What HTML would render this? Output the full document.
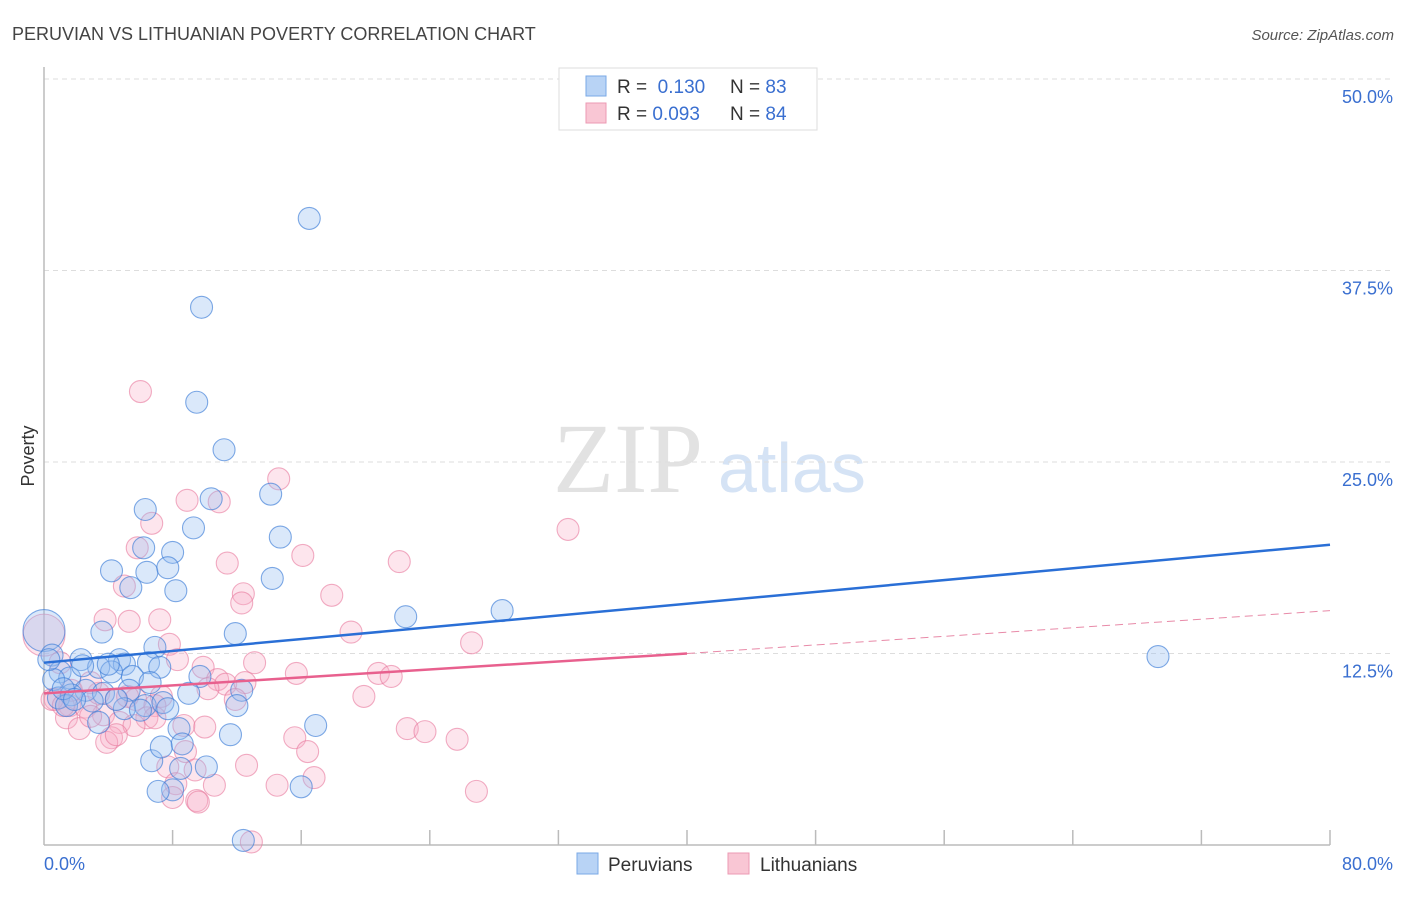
<!DOCTYPE html>
<html><head><meta charset="utf-8"><style>
body{margin:0;background:#fff;font-family:"Liberation Sans",sans-serif}
svg text{font-family:"Liberation Sans",sans-serif}
</style></head><body>
<svg id="c" width="1406" height="892">
<text x="12" y="40" font-size="18" fill="#444">PERUVIAN VS LITHUANIAN POVERTY CORRELATION CHART</text>
<text x="1394" y="40" font-size="15" fill="#555" text-anchor="end" font-style="italic">Source: ZipAtlas.com</text>
<text x="553" y="492" font-size="100" fill="#e2e2e2" style="font-family:'Liberation Serif',serif">ZIP</text>
<text x="718" y="492" font-size="70" fill="#d5e3f5">atlas</text>
<g id="grid"></g>
<g id="pts"></g>
<g id="trend"></g>
<text x="34" y="456" font-size="18" fill="#333" transform="rotate(-90 34 456)" text-anchor="middle">Poverty</text>
<text x="44" y="870" font-size="18" fill="#3a6fd0">0.0%</text>
<text x="1393" y="870" font-size="18" fill="#3a6fd0" text-anchor="end">80.0%</text>
<g>
<rect x="559" y="68" width="258" height="62" fill="#fff" stroke="#ddd"/>
<rect x="586" y="76" width="20" height="20" fill="#b8d3f5" stroke="#7aa8e6"/>
<rect x="586" y="103" width="20" height="20" fill="#f9c6d4" stroke="#ec9ab3"/>
<text x="617" y="93" font-size="19" fill="#333">R = <tspan fill="#3a6fd0">&#160;0.130</tspan></text>
<text x="730" y="93" font-size="19" fill="#333">N = <tspan fill="#3a6fd0">83</tspan></text>
<text x="617" y="120" font-size="19" fill="#333">R = <tspan fill="#3a6fd0">0.093</tspan></text>
<text x="730" y="120" font-size="19" fill="#333">N = <tspan fill="#3a6fd0">84</tspan></text>
</g>
<g>
<rect x="577" y="853" width="21" height="21" fill="#b8d3f5" stroke="#7aa8e6"/>
<text x="608" y="871" font-size="19" fill="#333">Peruvians</text>
<rect x="728" y="853" width="21" height="21" fill="#f9c6d4" stroke="#ec9ab3"/>
<text x="760" y="871" font-size="19" fill="#333">Lithuanians</text>
</g>
</svg>
<script>
const yTicks=[12.5,25,37.5,50];
const yTickLabels=["12.5%","25.0%","37.5%","50.0%"];
const xTicks=[8,16,24,32,40,48,56,64,72,80];
const blueX=[16.5,9.8,9.5,11.2,10.4,14.1,6.3,9.3,14.7,6.2,8.0,4.2,6.4,7.7,14.2,5.4,8.2,22.5,28.5,3.6,11.9,6.9,0,0.5,2.3,4.7,6.5,5.0,7.2,3.4,1.0,4.2,1.6,0.6,5.5,9.7,2.6,3.7,5.3,6.6,12.3,9.0,0.9,1.7,3.0,6.3,7.4,7.7,12.0,5.0,8.4,16.9,3.4,11.6,6.7,7.3,8.6,10.1,8.5,8.0,7.1,16.0,12.4,69.3,0.3,1.4,4.5,6.0,2.4,4.0,1.2,1.9];
const blueY=[40.9,35.1,28.9,25.8,22.6,22.9,21.9,20.7,20.1,19.4,19.1,17.9,17.8,18.1,17.4,16.8,16.6,14.9,15.3,13.9,13.8,12.9,14.0,12.4,12.1,12.1,11.9,11.8,11.6,11.6,11.3,11.3,10.9,10.8,11.0,11.0,10.1,9.9,10.1,10.6,10.1,9.9,9.6,9.8,9.4,9.1,9.3,8.9,9.1,8.9,7.6,7.8,8.0,7.2,5.5,6.4,6.6,5.1,5.0,3.6,3.5,3.8,0.3,12.3,12.1,9.1,9.5,8.8,11.7,11.8,10.2,9.5];
const pinkX=[6.0,14.6,8.9,10.9,6.7,32.6,5.8,16.1,11.4,22.1,5.0,12.4,17.9,12.3,3.8,5.3,7.2,19.1,26.6,0,7.8,8.3,13.1,9.9,15.7,20.8,21.6,10.8,11.3,10.2,7.3,19.9,12.5,0.7,1.6,2.6,3.4,4.5,5.7,6.9,0.5,1.4,2.2,3.7,4.7,6.4,5.6,4.2,3.9,4.5,8.7,10.0,22.6,23.7,25.7,15.6,16.4,8.8,12.6,7.7,9.4,8.2,16.8,14.5,10.6,8.0,9.5,9.6,26.9,12.9,1.0,2.9,1.7,5.2,11.9,6.9,2.9,1.2];
const pinkY=[29.6,23.9,22.5,22.4,21.0,20.6,19.4,18.9,18.4,18.5,16.9,16.4,16.3,15.8,14.7,14.6,14.7,13.9,13.2,13.7,13.1,12.1,11.9,11.6,11.2,11.2,11.0,10.8,10.5,10.2,9.7,9.7,10.6,9.5,9.1,9.0,9.9,9.5,9.5,9.1,9.5,8.3,7.6,8.5,8.0,8.3,7.8,7.0,6.7,7.2,7.8,7.7,7.6,7.4,6.9,7.0,6.1,6.1,5.2,5.1,4.9,4.0,4.4,3.9,3.9,3.1,2.9,2.8,3.5,0.2,11.9,10.6,10.1,9.7,9.5,8.3,8.4,9.1];
const blueTrend=[[0,11.9],[80,19.6]];
const pinkTrend=[[0,9.9],[40,12.5]];
const pinkTrendExt=[[40,12.5],[80,15.3]];
const X=v=>44+v*(1286/80), Y=v=>845-v*(766/50);
const NS="http://www.w3.org/2000/svg";
function mk(t,a,p){const e=document.createElementNS(NS,t);for(const k in a)e.setAttribute(k,a[k]);p.appendChild(e);return e;}
const grid=document.getElementById('grid');
yTicks.forEach((t,i)=>{
 const l=mk('line',{x1:44,x2:1393,y1:Y(t),y2:Y(t),stroke:'#ddd','stroke-dasharray':'5,4'},grid);
 
 
 const tx=mk('text',{x:1393,y:Y(t)+24,'font-size':18,fill:'#3a6fd0','text-anchor':'end'},grid);
 tx.textContent=yTickLabels[i];
 
 
});
const ax=mk('line',{x1:44,x2:44,y1:67,y2:845,stroke:'#bbb','stroke-width':1.5},grid);


const bx=mk('line',{x1:44,x2:1330,y1:845,y2:845,stroke:'#bbb','stroke-width':1.5},grid);


xTicks.forEach(t=>{
 const l=mk('line',{x1:X(t),x2:X(t),y1:830,y2:845,stroke:'#bbb','stroke-width':1.5},grid);
 
 
});
const pts=document.getElementById('pts');
function dots(xs,ys,fill,stroke,name){
 xs.forEach((x,i)=>{
  const r=(x===0)?21:11;
  const c=mk('circle',{cx:X(x),cy:Y(ys[i]),r:r,fill:fill,stroke:stroke,'stroke-width':1.1},pts);
  
  
 });
}
dots(pinkX,pinkY,'rgba(248,175,198,0.32)','rgba(232,120,156,0.6)','lithuanian-point');
dots(blueX,blueY,'rgba(150,190,240,0.35)','rgba(60,125,215,0.65)','peruvian-point');
const tr=document.getElementById('trend');
function ln(d,st,w,dash,name){
 const l=mk('line',{x1:X(d[0][0]),y1:Y(d[0][1]),x2:X(d[1][0]),y2:Y(d[1][1]),stroke:st,'stroke-width':w},tr);
 if(dash)l.setAttribute('stroke-dasharray',dash);
 
 
}
ln(blueTrend,'#2a6fd6',2.5,null,'peruvian-trend-line');
ln(pinkTrend,'#e8608e',2.5,null,'lithuanian-trend-line');
ln(pinkTrendExt,'#e88aa8',1,'8,5','lithuanian-trend-extension');
</script>
</body></html>
